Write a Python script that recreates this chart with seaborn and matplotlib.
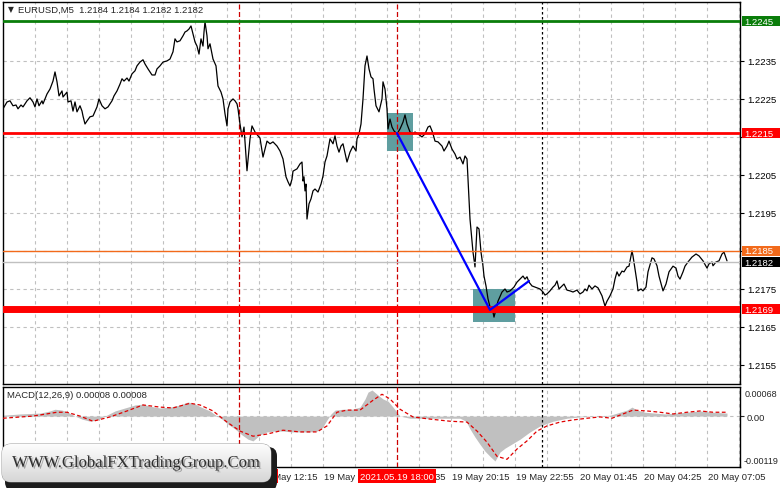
import matplotlib
matplotlib.use("Agg")
import matplotlib.pyplot as plt
import matplotlib.transforms as mtransforms
import matplotlib.patheffects as pe
from matplotlib.patches import FancyBboxPatch, Rectangle
import numpy as np
import seaborn as sns

# ---- data (bar index = 5-minute bars from 19 May 01:35) ----
symbol_title = "EURUSD,M5  1.2184 1.2184 1.2182 1.2182"
macd_title = "MACD(12,26,9) 0.00008 0.00008"

price_bar = [0, 2, 3.5, 5, 6.5, 7.5, 9, 10, 12, 13.5, 15, 16, 17, 18, 19.5, 20, 22, 23.5, 25, 26,
             27, 28, 29.5, 30, 32, 32.5, 34, 35, 36, 37, 38.5, 39.5, 40, 41, 42, 43.5, 45, 47, 48, 49.5,
             51, 52.5, 54.5, 55.5, 57, 58.5, 59.5, 60.5, 62, 63, 64.5, 66, 67, 68.5, 70, 71, 72.5, 74.5, 76, 77,
             78.5, 80, 82, 83.5, 85, 86, 87, 88.5, 90, 91, 92, 93, 94, 95, 96, 97, 98, 99, 100, 100.5,
             101, 102, 102.5, 103.5, 105, 106.5, 107.5, 109, 110, 111, 112, 112.5, 113.5, 115, 116, 117, 117.5, 118.5, 119.5, 120.5,
             122, 123.5, 124.5, 126, 127.5, 128.5, 130, 132, 133.5, 135, 137, 138.5, 140, 141.5, 142.5, 143.5, 144.5, 145, 147, 148.5,
             149.5, 150, 150.5, 151, 151.5, 152, 153, 154, 155, 156, 157.5, 159, 160, 161, 162, 163.5, 165, 166, 167, 168,
             169, 170, 172, 173.5, 175, 176.5, 177, 178, 179, 180, 181, 182, 183, 184, 185, 185.5, 186.5, 188, 189.5, 190,
             191, 192, 192.5, 193.5, 194.5, 195.5, 197, 198.5, 200, 201, 202, 203.5, 205, 206, 207.5, 209.5, 211, 212.5, 213.5, 214.5,
             215, 216, 217.5, 219.5, 220.5, 222, 223, 224.5, 226, 227, 228.5, 230, 231, 232, 232.5, 233.5, 235, 236, 237, 238,
             239, 240, 240.5, 241.5, 242.5, 243.5, 245, 245.5, 246.5, 247.5, 249.5, 251, 252, 253.5, 255.5, 257, 258.5, 260, 261, 262,
             263, 264.5, 267, 268.5, 270, 271, 272, 273.5, 275, 276, 277, 278, 279.5, 280.5, 282, 283.5, 285, 287, 288.5, 290,
             291, 292, 293, 294.5, 296, 297.5, 299.5, 301, 302, 303.5, 305, 306, 307, 308, 309.5, 310.5, 312, 313, 314.5, 315,
             316, 317, 317.5, 319, 320, 321.5, 322.5, 324.5, 325.5, 327, 328, 330, 331.5, 333, 335, 336.5, 337.5, 338.5, 340, 341,
             342.5, 344.5, 346.5, 348, 350, 352, 353, 354.5, 355, 356.5, 358, 359.5, 360.5, 362]
price_close = [1.22224, 1.22242, 1.22245, 1.22232, 1.22234, 1.22224, 1.22234, 1.22229, 1.22245, 1.22253,
               1.22242, 1.22229, 1.22250, 1.22232, 1.22245, 1.22237, 1.22263, 1.22276, 1.22297, 1.22321,
               1.22295, 1.22258, 1.22271, 1.22255, 1.22268, 1.22242, 1.22245, 1.22218, 1.22242, 1.22216,
               1.22232, 1.22218, 1.22205, 1.22184, 1.22192, 1.22203, 1.22205, 1.22229, 1.22250, 1.22232,
               1.22224, 1.22229, 1.22245, 1.22258, 1.22271, 1.22289, 1.22303, 1.22297, 1.22305, 1.22297,
               1.22316, 1.22324, 1.22337, 1.22347, 1.22353, 1.22342, 1.22329, 1.22313, 1.22313, 1.22329,
               1.22337, 1.22347, 1.22350, 1.22355, 1.22374, 1.22408, 1.22400, 1.22403, 1.22416, 1.22426,
               1.22429, 1.22434, 1.22442, 1.22421, 1.22400, 1.22389, 1.22368, 1.22408, 1.22389, 1.22426,
               1.22453, 1.22416, 1.22382, 1.22395, 1.22355, 1.22337, 1.22284, 1.22268, 1.22250, 1.22211,
               1.22179, 1.22224, 1.22242, 1.22250, 1.22245, 1.22237, 1.22224, 1.22184, 1.22150, 1.22176,
               1.22061, 1.22145, 1.22179, 1.22163, 1.22153, 1.22147, 1.22097, 1.22139, 1.22132, 1.22137,
               1.22126, 1.22113, 1.22092, 1.22045, 1.22032, 1.22021, 1.22039, 1.22060, 1.22066, 1.22079,
               1.22084, 1.22034, 1.22045, 1.22008, 1.22026, 1.21934, 1.21974, 1.21987, 1.22008, 1.22013,
               1.22005, 1.22026, 1.22047, 1.22084, 1.22100, 1.22145, 1.22132, 1.22153, 1.22126, 1.22110,
               1.22126, 1.22132, 1.22084, 1.22110, 1.22126, 1.22113, 1.22145, 1.22158, 1.22184, 1.22250,
               1.22337, 1.22363, 1.22329, 1.22308, 1.22303, 1.22276, 1.22232, 1.22216, 1.22250, 1.22295,
               1.22276, 1.22224, 1.22171, 1.22197, 1.22176, 1.22166, 1.22158, 1.22171, 1.22189, 1.22208,
               1.22184, 1.22163, 1.22158, 1.22163, 1.22158, 1.22150, 1.22158, 1.22176, 1.22179, 1.22166,
               1.22158, 1.22139, 1.22137, 1.22126, 1.22113, 1.22126, 1.22139, 1.22118, 1.22105, 1.22092,
               1.22097, 1.22079, 1.22100, 1.22092, 1.22039, 1.21934, 1.21847, 1.21808, 1.21913, 1.21908,
               1.21847, 1.21810, 1.21784, 1.21758, 1.21724, 1.21703, 1.21689, 1.21676, 1.21697, 1.21718,
               1.21742, 1.21750, 1.21742, 1.21745, 1.21755, 1.21768, 1.21776, 1.21784, 1.21776, 1.21782,
               1.21768, 1.21758, 1.21753, 1.21750, 1.21742, 1.21734, 1.21737, 1.21745, 1.21755, 1.21760,
               1.21771, 1.21750, 1.21758, 1.21763, 1.21747, 1.21745, 1.21742, 1.21747, 1.21737, 1.21742,
               1.21750, 1.21745, 1.21760, 1.21750, 1.21758, 1.21753, 1.21732, 1.21705, 1.21718, 1.21732,
               1.21750, 1.21776, 1.21795, 1.21784, 1.21797, 1.21795, 1.21808, 1.21810, 1.21850, 1.21837,
               1.21803, 1.21768, 1.21745, 1.21750, 1.21745, 1.21755, 1.21795, 1.21832, 1.21829, 1.21811,
               1.21784, 1.21745, 1.21763, 1.21795, 1.21810, 1.21805, 1.21784, 1.21776, 1.21795, 1.21810,
               1.21821, 1.21834, 1.21842, 1.21837, 1.21824, 1.21805, 1.21816, 1.21821, 1.21811, 1.21821,
               1.21824, 1.21842, 1.21847, 1.21824]

hist_bar = [0, 8.5, 18.5, 23.5, 26, 29.5, 32.5, 36, 39.5, 43.5, 47, 51, 56, 61, 66, 70, 73.5, 78.5, 83.5, 88.5,
            92.5, 96, 100, 103.5, 107, 109.5, 112.5, 116, 119.5, 122.5, 125, 128.5, 132, 136, 140, 144.5, 148.5, 153.5, 157, 159.5,
            162, 164, 166, 170, 174.5, 178.5, 181, 182.5, 184.5, 187, 190, 192.5, 195, 197, 198.5, 203.5, 208.5, 216, 223.5, 228.5,
            231.5, 233.5, 236, 238.5, 241, 243.5, 246, 248.5, 251, 253.5, 258.5, 263.5, 268.5, 275, 282, 288.5, 296, 303.5, 308.5, 312,
            314.5, 317, 321, 326, 331, 336, 342, 348.5, 355, 362]
hist_value = [0.00002, 0.00005, 0.00007, 0.00012, 0.00016, 0.00014, 0.00009, 0.0, -0.00007, -0.00012,
              -0.00009, 0.0, 0.00012, 0.00019, 0.00026, 0.00028, 0.00023, 0.00019, 0.00021, 0.00026,
              0.00033, 0.00028, 0.00019, 0.00012, 0.0, -0.00007, -0.00019, -0.00030, -0.00044, -0.00054,
              -0.00058, -0.00044, -0.00037, -0.00035, -0.00035, -0.00037, -0.00037, -0.00037, -0.00035, -0.00028,
              -0.00009, 0.00005, 0.00014, 0.00016, 0.00016, 0.00021, 0.00040, 0.00056, 0.00061, 0.00051,
              0.00040, 0.00035, 0.00021, 0.00009, 0.0, -0.00005, -0.00005, -0.00005, -0.00005, -0.00005,
              -0.00012, -0.00030, -0.00049, -0.00066, -0.00082, -0.00094, -0.00105, -0.00084, -0.00075, -0.00068,
              -0.00054, -0.00037, -0.00023, -0.00012, -0.00005, -0.00002, 0.0, 0.00002, 0.00009, 0.00014,
              0.00021, 0.00014, 0.00009, 0.00007, 0.00005, 0.00007, 0.00009, 0.00012, 0.00009, 0.00007]

signal_bar = [0, 15, 27, 32, 38.5, 45, 53.5, 62, 70, 78.5, 85, 93.5, 98.5, 105, 112, 118.5, 125, 132, 140, 148.5,
              157, 162, 167, 172, 178.5, 185, 189.5, 193.5, 198.5, 205, 213.5, 223.5, 232, 237, 242, 247, 252, 257, 262, 267,
              272, 278.5, 285, 292, 298.5, 304.5, 310, 315, 322, 328.5, 335, 342, 348.5, 355, 362]
signal_value = [-0.00005, 0.0, 0.00009, 0.00009, 0.0, -0.00012, -0.00002, 0.00012, 0.00026, 0.00021,
                0.00019, 0.00030, 0.00026, 0.00012, -0.00014, -0.00035, -0.00047, -0.00042, -0.00033, -0.00037,
                -0.00037, -0.00023, 0.00009, 0.00014, 0.00014, 0.00037, 0.00051, 0.00040, 0.00016, -0.00002,
                -0.00007, -0.00012, -0.00014, -0.00035, -0.00061, -0.00094, -0.00101, -0.00077, -0.00058, -0.00035,
                -0.00023, -0.00014, -0.00009, -0.00005, -0.00002, -0.00005, 0.00005, 0.00014, 0.00012, 0.00009,
                0.00005, 0.00009, 0.00012, 0.00009, 0.00009]

# horizontal levels drawn on the chart
level_values = [1.22455, 1.2216, 1.2185, 1.2182, 1.21697]
level_labels = ["1.2245", "1.2215", "1.2185", "1.2182", "1.2169"]
level_colors = ["#0a7d0a", "#ff0000", "#f26a1b", "#c0c0c0", "#ff0000"]
level_box_colors = ["#0a7d0a", "#ff0000", "#f26a1b", "#000000", "#ff0000"]
level_widths = [2.0, 2.0, 1.0, 1.0, 5.0]

# trend line and zones
trend_bar = [197, 243.5, 263]
trend_price = [1.2216, 1.21695, 1.21771]
zone_bars = [(192, 205), (235, 256)]
zone_prices = [(1.22113, 1.22213), (1.21663, 1.21750)]

# price scale and time scale
grid_levels = [1.2155, 1.2165, 1.2175, 1.2185, 1.2195, 1.2205, 1.2215, 1.2225, 1.2235]
grid_labels = ["1.2155", "1.2165", "1.2175", "", "1.2195", "1.2205", "", "1.2225", "1.2235"]
time_bars = [0, 32, 64, 96, 128, 160, 192, 224, 256, 288, 320, 352]
time_labels = ["19 May 2021", "19 May 04:15", "19 May 06:55", "19 May 09:35", "19 May 12:15",
               "19 May 14:55", "19 May 17:35", "19 May 20:15", "19 May 22:55", "20 May 01:45",
               "20 May 04:25", "20 May 07:05"]
session_bars = [118, 197]
session_labels = ["2021.05.19 11:25", "2021.05.19 18:00"]
day_sep_bar = 269.5

sns.set_style("white")
plt.rcParams["font.family"] = ["Liberation Sans", "DejaVu Sans"]

W, H = 781, 489
XLIM = (0, 368.5)
YLIM = (1.2150, 1.22505)
MLIM = (-0.00119, 0.00068)


def rect(x0, y0, x1, y1):
    return [x0 / W, 1 - y1 / H, (x1 - x0) / W, (y1 - y0) / H]


fig = plt.figure(figsize=(W / 100, H / 100), dpi=100)
ax = fig.add_axes(rect(3, 3, 740, 385))
ax2 = fig.add_axes(rect(3, 388, 740, 468))

grid_kw = dict(color="#c0c0c0", lw=0.8, ls=(0, (3, 3)), zorder=0)
for a in (ax, ax2):
    for b in range(16, 369, 16):
        a.axvline(b, **grid_kw)
    for s in session_bars:
        a.axvline(s, color="#cc0000", lw=0.9, ls=(0, (4, 2)), zorder=3)
    a.axvline(day_sep_bar, color="black", lw=0.9, ls=(0, (2, 2)), zorder=3)
    for sp in a.spines.values():
        sp.set_color("black")
        sp.set_linewidth(1)

# ---- main price panel ----
for g in grid_levels:
    ax.axhline(g, **grid_kw)

for (b0, b1), (p0, p1) in zip(zone_bars, zone_prices):
    ax.add_patch(Rectangle((b0, p0), b1 - b0, p1 - p0, fc="cadetblue", ec="none", zorder=1))

for v, c, w in zip(level_values, level_colors, level_widths):
    ax.axhline(v, color=c, lw=w, zorder=5)

sns.lineplot(x=price_bar, y=price_close, ax=ax, color="black", linewidth=0.9,
             estimator=None, sort=False, zorder=4)
sns.lineplot(x=trend_bar, y=trend_price, ax=ax, color="#0000ff", linewidth=1.6,
             estimator=None, sort=False, zorder=6)
ax.set_xlim(*XLIM)
ax.set_ylim(*YLIM)

ax.yaxis.tick_right()
ax.set_yticks(grid_levels)
ax.set_yticklabels(grid_labels)
ax.tick_params(axis="y", length=3, width=0.8, pad=2, labelsize=6.8, colors="black")
ax.set_xticks([])
ax.set_xlabel("")
ax.set_ylabel("")

tr = mtransforms.blended_transform_factory(ax.transAxes, ax.transData)
box_h = 10 / 38000
for v, lab, bc in zip(level_values, level_labels, level_box_colors):
    ax.add_patch(Rectangle((1.0027, v - box_h / 2), 0.0516, box_h, transform=tr,
                           fc=bc, ec="none", clip_on=False, zorder=10))
    ax.text(1.006, v, lab, transform=tr, color="white", fontsize=6.8,
            ha="left", va="center", zorder=11, clip_on=False)

ax.text(0.0068, 0.982, "\u25bc", transform=ax.transAxes, fontsize=5.5,
        ha="left", va="center", family=["DejaVu Sans"])
ax.text(0.0205, 0.982, symbol_title, transform=ax.transAxes, fontsize=6.8,
        ha="left", va="center")

# ---- MACD panel ----
ax2.axhline(0, **grid_kw)
ax2.fill_between(hist_bar, 0, hist_value, color="#c0c0c0", lw=0, zorder=1)
sns.lineplot(x=signal_bar, y=signal_value, ax=ax2, color="#e00000", linewidth=0.9,
             linestyle=(0, (3, 2)), estimator=None, sort=False, zorder=4)
ax2.set_xlim(*XLIM)
ax2.set_ylim(*MLIM)
ax2.yaxis.tick_right()
ax2.set_yticks([0])
ax2.set_yticklabels(["0.00"])
ax2.tick_params(axis="y", length=3, width=0.8, pad=2, labelsize=6.8)
ax2.set_xticks(time_bars)
ax2.set_xticklabels([])
ax2.tick_params(axis="x", length=3, width=0.8)
ax2.set_xlabel("")
ax2.set_ylabel("")
ax2.text(1.006, 0.9125, "0.00068", transform=ax2.transAxes, fontsize=6.5, ha="left", va="center")
ax2.text(1.005, 0.075, "-0.00119", transform=ax2.transAxes, fontsize=6.5, ha="left", va="center")
ax2.text(0.0054, 0.9, macd_title, transform=ax2.transAxes, fontsize=6.8, ha="left", va="center")

trx = mtransforms.blended_transform_factory(ax2.transData, ax2.transAxes)
for b, lab in zip(time_bars, time_labels):
    ax2.text(b + 0.5, -0.115, lab, transform=trx, fontsize=6.8, ha="left", va="center",
             clip_on=False, zorder=2)
for b, lab in zip(session_bars, session_labels):
    ax2.text(b, -0.115, lab, transform=trx, fontsize=6.8, ha="center", va="center", color="white",
             clip_on=False, zorder=5,
             bbox=dict(boxstyle="square,pad=0.25", fc="#ff0000", ec="none"))

# ---- watermark ----
wm = fig.add_axes([0, 0, 1, 1], zorder=20)
wm.axis("off")
wm.add_patch(FancyBboxPatch((5, 448), 272, 44, boxstyle="round,pad=0,rounding_size=9",
                            fc="#1c1c1c", ec="none", zorder=1))
face = FancyBboxPatch((2, 445), 269, 38, boxstyle="round,pad=0,rounding_size=9",
                      fc="#eeeeee", ec="#8a8a8a", lw=0.6, zorder=2)
wm.add_patch(face)
grad = np.linspace(0.99, 0.84, 64).reshape(-1, 1)
im = wm.imshow(grad, cmap="gray", vmin=0, vmax=1, extent=(2, 271, 483, 445),
               aspect="auto", zorder=3)
im.set_clip_path(face)
wm.text(136, 464, "WWW.GlobalFXTradingGroup.Com", family=["Liberation Serif", "DejaVu Serif"],
        fontsize=12, color="#2e2e2e", ha="center", va="center", zorder=4,
        path_effects=[pe.withSimplePatchShadow(offset=(1.2, -1.2), shadow_rgbFace="#777777", alpha=0.6)])
wm.set_xlim(0, W)
wm.set_ylim(H, 0)

fig.savefig("out.png", dpi=100)
